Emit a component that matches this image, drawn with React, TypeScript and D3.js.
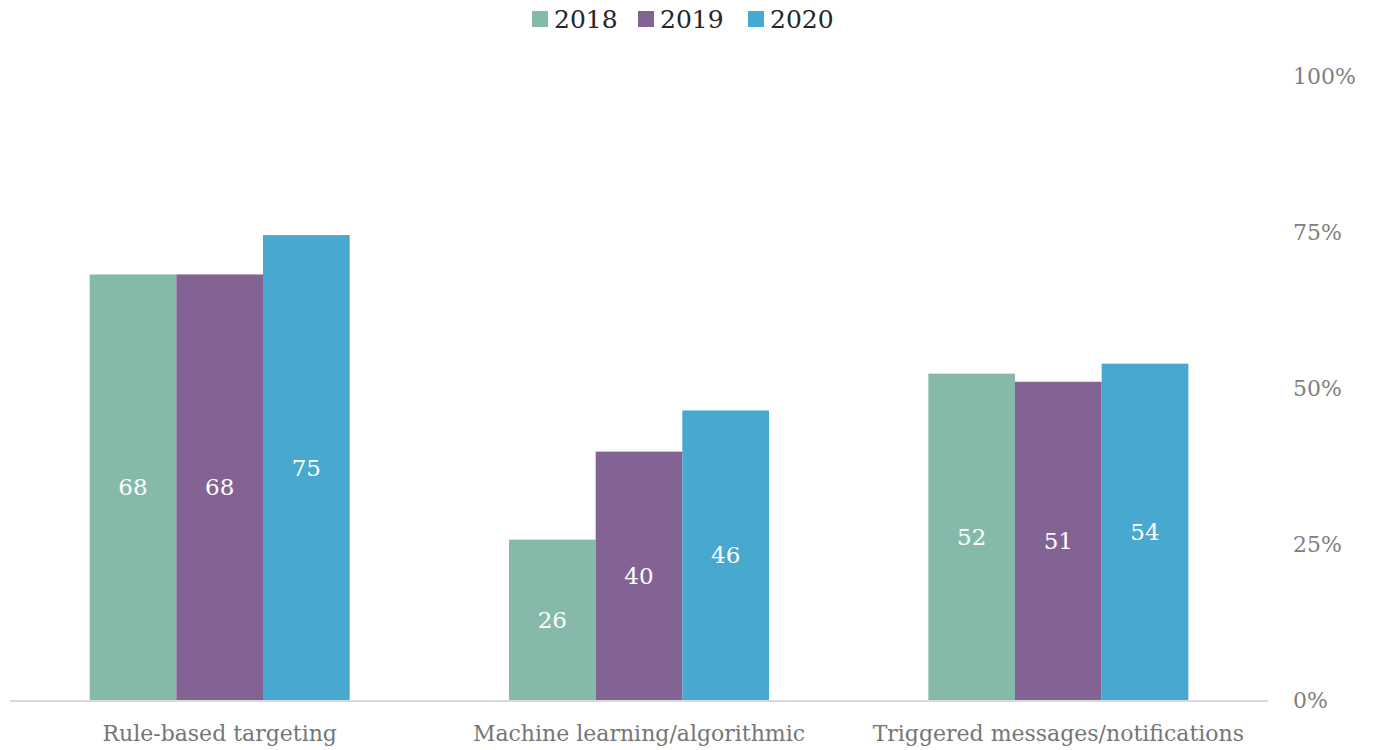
import { useRef, useEffect } from 'react'
import * as d3 from 'd3'

const categories = ['Rule-based targeting', 'Machine learning/algorithmic', 'Triggered messages/notifications']
const years = ['2018', '2019', '2020']
const values2018 = [68.2, 25.7, 52.3]
const values2019 = [68.2, 39.8, 51.0]
const values2020 = [74.5, 46.4, 53.9]
const yTicks = [0, 25, 50, 75, 100]

const COLORS = ['#85BAAA', '#836394', '#47A8D0']
const FONT = "'DejaVu Serif', 'Liberation Serif', serif"

export default function App() {
  const svgRef = useRef<SVGSVGElement>(null)

  useEffect(() => {
    if (!svgRef.current) return
    const width = 1375
    const height = 750
    const svg = d3.select(svgRef.current)
    svg.selectAll('*').remove()
    svg.attr('width', width).attr('height', height)

    const series = [values2018, values2019, values2020]
    const left = 10
    const right = 1268
    const bottom = 700
    const top = 76

    const x0 = d3.scaleBand<string>().domain(categories).range([left, right]).paddingInner(0.38).paddingOuter(0.19)
    const x1 = d3.scaleBand<string>().domain(years).range([0, x0.bandwidth()])
    const y = d3.scaleLinear().domain([0, 100]).range([bottom, top])

    // bars
    categories.forEach((cat, ci) => {
      const g = svg.append('g').attr('transform', `translate(${x0(cat)},0)`)
      years.forEach((yr, si) => {
        const v = series[si][ci]
        g.append('rect')
          .attr('x', x1(yr)!)
          .attr('y', y(v))
          .attr('width', x1.bandwidth())
          .attr('height', bottom - y(v))
          .attr('fill', COLORS[si])
        g.append('text')
          .attr('x', x1(yr)! + x1.bandwidth() / 2)
          .attr('y', (y(v) + bottom) / 2)
          .attr('dy', '0.35em')
          .attr('text-anchor', 'middle')
          .attr('fill', '#fff')
          .attr('font-family', FONT)
          .attr('font-size', 23)
          .text(d3.format('.0f')(v))
      })
    })

    // baseline
    svg.append('line')
      .attr('x1', left).attr('x2', right)
      .attr('y1', bottom + 1).attr('y2', bottom + 1)
      .attr('stroke', '#d9d9d9').attr('stroke-width', 2)

    // y axis on right
    const yAxis = svg.append('g')
      .attr('transform', `translate(1293,0)`)
      .call(d3.axisRight(y).tickValues(yTicks).tickSize(0).tickFormat((d) => `${d}%`))
    yAxis.select('.domain').remove()
    yAxis.selectAll('text')
      .attr('x', 0)
      .attr('fill', '#7f7f7f')
      .attr('font-family', FONT)
      .attr('font-size', 22)

    // x labels
    categories.forEach((cat) => {
      svg.append('text')
        .attr('x', x0(cat)! + x0.bandwidth() / 2)
        .attr('y', 741)
        .attr('text-anchor', 'middle')
        .attr('fill', '#767676')
        .attr('font-family', FONT)
        .attr('font-size', 22)
        .text(cat)
    })

    // legend
    const legendX = [532, 638, 748]
    years.forEach((yr, i) => {
      const lg = svg.append('g').attr('transform', `translate(${legendX[i]},11)`)
      lg.append('rect').attr('width', 16).attr('height', 16).attr('fill', COLORS[i])
      lg.append('text')
        .attr('x', 22)
        .attr('y', 8)
        .attr('dy', '0.35em')
        .attr('fill', '#262626')
        .attr('font-family', FONT)
        .attr('font-size', 25)
        .text(yr)
    })
  }, [])

  return <svg ref={svgRef} style={{ position: 'absolute', left: 0, top: 0 }} />
}
